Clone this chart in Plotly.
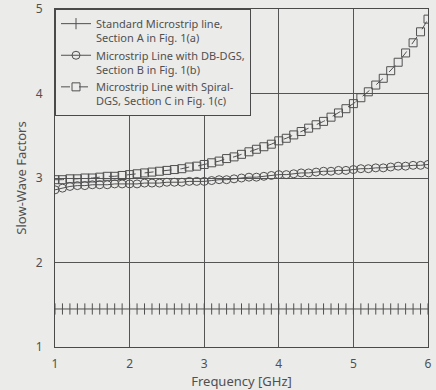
import plotly.graph_objects as go

freq = [round(1.0 + 0.1 * i, 1) for i in range(51)]

standard = [1.45] * 51

db_dgs = [2.86, 2.88, 2.90, 2.91, 2.91, 2.92, 2.92, 2.92, 2.93, 2.93,
          2.93, 2.93, 2.94, 2.94, 2.94, 2.95, 2.95, 2.95, 2.96, 2.96,
          2.96, 2.97, 2.98, 2.98, 2.99, 3.00, 3.01, 3.01, 3.02, 3.03,
          3.04, 3.04, 3.05, 3.06, 3.06, 3.07, 3.08, 3.08, 3.09, 3.09,
          3.10, 3.11, 3.11, 3.12, 3.12, 3.13, 3.14, 3.14, 3.15, 3.15,
          3.16]

spiral_dgs = [2.98, 2.98, 2.99, 2.99, 3.00, 3.00, 3.01, 3.02, 3.02, 3.03,
              3.04, 3.05, 3.06, 3.07, 3.08, 3.09, 3.10, 3.11, 3.13, 3.14,
              3.16, 3.18, 3.20, 3.23, 3.25, 3.28, 3.31, 3.34, 3.37, 3.40,
              3.44, 3.47, 3.51, 3.55, 3.59, 3.63, 3.67, 3.72, 3.77, 3.82,
              3.88, 3.95, 4.02, 4.10, 4.18, 4.27, 4.37, 4.48, 4.60, 4.73,
              4.88]

names = ["Standard Microstrip line,<br>Section A in Fig. 1(a)",
         "Microstrip Line with DB-DGS,<br>Section B in Fig. 1(b)",
         "Microstrip Line with Spiral-<br>DGS, Section C in Fig. 1(c)"]

ink = "#505050"
bg = "#ebebea"

fig = go.Figure()
fig.add_trace(go.Scatter(
    x=freq, y=standard, name=names[0], mode="lines+markers",
    line=dict(color=ink, width=1),
    marker=dict(symbol="line-ns", size=8, line=dict(color=ink, width=1), color=ink)))
fig.add_trace(go.Scatter(
    x=freq, y=db_dgs, name=names[1], mode="lines+markers",
    line=dict(color=ink, width=1),
    marker=dict(symbol="circle-open", size=8, line=dict(color=ink, width=1), color=ink)))
fig.add_trace(go.Scatter(
    x=freq, y=spiral_dgs, name=names[2], mode="lines+markers",
    line=dict(color=ink, width=1, dash="dash"),
    marker=dict(symbol="square-open", size=8, line=dict(color=ink, width=1), color=ink)))

axis_common = dict(
    showgrid=True, gridcolor="#555555", gridwidth=1,
    showline=True, linecolor="#4a4a4a", linewidth=1, mirror=True,
    zeroline=False, ticks="", dtick=1, automargin=False,
    tickfont=dict(family="Noto Sans", size=12, color=ink),
)

fig.update_layout(
    width=436, height=390,
    margin=dict(l=55, r=8, t=9, b=43, autoexpand=False),
    paper_bgcolor=bg, plot_bgcolor=bg,
    font=dict(family="Noto Sans", color=ink),
    xaxis=dict(range=[1, 6], tick0=1, ticklabelstandoff=6,
               title=dict(text="Frequency [GHz]", font=dict(size=13, color=ink), standoff=2),
               **axis_common),
    yaxis=dict(range=[1, 5], tick0=1, ticklabelstandoff=9,
               title=dict(text="Slow-Wave Factors", font=dict(size=13, color=ink), standoff=6),
               **axis_common),
    legend=dict(x=0, y=1, xanchor="left", yanchor="top",
                bgcolor=bg, bordercolor="#4a4a4a", borderwidth=1,
                font=dict(family="Noto Sans", size=11, color=ink),
                valign="top", tracegroupgap=0, itemwidth=30),
    showlegend=True,
)

fig.write_html(
    "out.html",
    config={"displayModeBar": False},
    post_script="document.body.style.margin='0';document.body.style.background='#ebebea';",
)
